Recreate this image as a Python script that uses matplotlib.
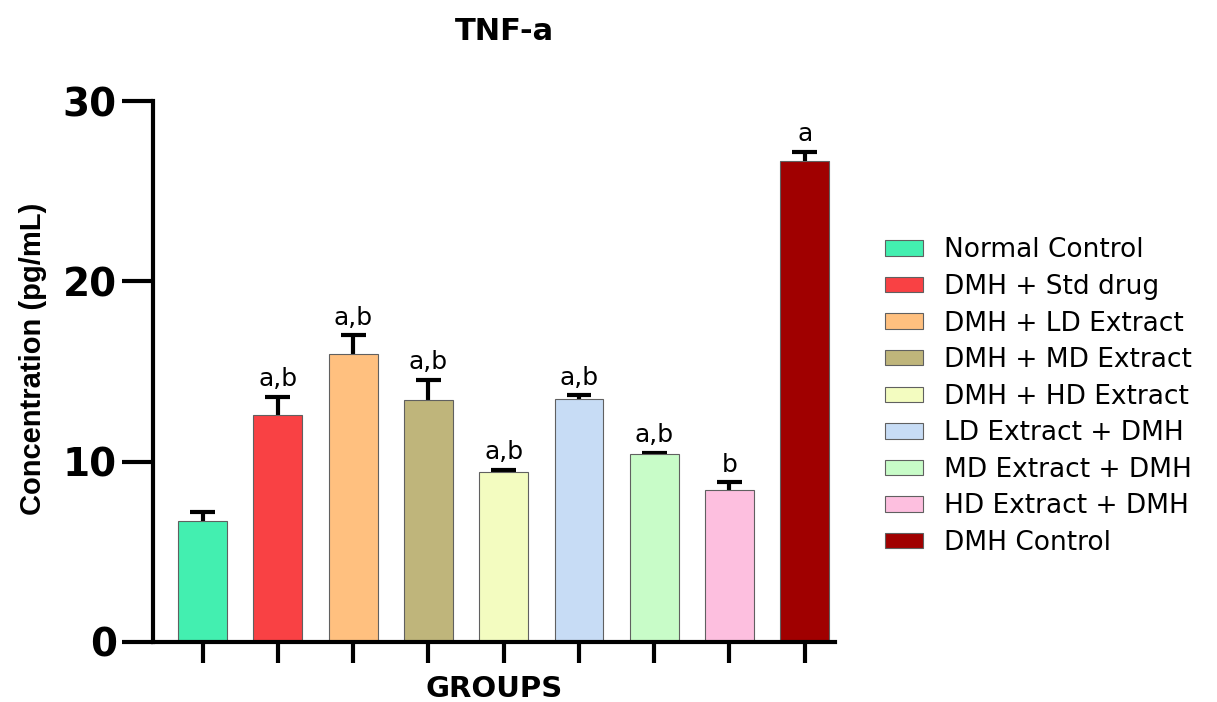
import numpy as np
import matplotlib
matplotlib.use('Agg')
import matplotlib.pyplot as plt
from matplotlib.patches import Patch

# groups, means, upper error and significance letters
groups = ['Normal Control', 'DMH + Std drug', 'DMH + LD Extract', 'DMH + MD Extract',
          'DMH + HD Extract', 'LD Extract + DMH', 'MD Extract + DMH', 'HD Extract + DMH',
          'DMH Control']
means = [6.7, 12.6, 16.0, 13.4, 9.45, 13.45, 10.4, 8.45, 26.7]
errs = [0.5, 1.0, 1.0, 1.15, 0.1, 0.25, 0.1, 0.4, 0.5]
letters = ['', 'a,b', 'a,b', 'a,b', 'a,b', 'a,b', 'a,b', 'b', 'a']
colors = ['#43EFB0', '#F94144', '#FFC07F', '#BFB57B', '#F3FCC0', '#C7DCF5',
          '#C8FCC8', '#FDBFDF', '#A00000']

plt.rcParams['font.family'] = ['DejaVu Sans']

fig = plt.figure(figsize=(12.17, 7.02), dpi=100)
ax = fig.add_axes([0.1257, 0.0855, 0.5603, 0.7705])

x = np.arange(len(groups))
tops = np.array(means) + np.array(errs)
ax.bar(x, means, width=0.65, color=colors, edgecolor='#606060', linewidth=0.8, zorder=2)
# upper error bars only: stem + cap
ax.vlines(x, means, tops, color='black', linewidth=3, zorder=1)
ax.hlines(tops, x - 0.165, x + 0.165, color='black', linewidth=3, zorder=1)

# significance letters above the error caps
for i in range(len(groups)):
    if letters[i]:
        ax.text(x[i], tops[i] + 0.3, letters[i], ha='center', va='bottom', fontsize=18)

ax.set_xlim(-0.66, 8.4)
ax.set_ylim(0, 30)
ax.set_yticks([0, 10, 20, 30])
ax.set_xticks(x)
ax.set_xticklabels([])
ax.spines['top'].set_visible(False)
ax.spines['right'].set_visible(False)
ax.spines['left'].set_linewidth(3)
ax.spines['bottom'].set_linewidth(3)
ax.tick_params(axis='y', length=22, width=3, labelsize=28, pad=4)
ax.tick_params(axis='x', length=15, width=3)
for t in ax.get_yticklabels():
    t.set_fontweight('bold')

ax.set_ylabel('Concentration (pg/mL)', fontsize=21, fontweight='bold',
              family=['Liberation Sans Narrow', 'Liberation Sans'])
ax.yaxis.set_label_coords(-0.155, 0.523)
ax.set_xlabel('GROUPS', fontsize=21, fontweight='bold', labelpad=5)
ax.set_title('TNF-a', fontsize=22, fontweight='bold', pad=44, x=0.516)

handles = [Patch(facecolor=c, edgecolor='#606060', linewidth=0.8) for c in colors]
fig.legend(handles, groups, loc='center left', bbox_to_anchor=(0.727, 0.435), frameon=False,
           fontsize=19, handlelength=1.45, handleheight=0.52, labelspacing=0.4,
           handletextpad=0.8, borderpad=0, borderaxespad=0)

fig.savefig('out.png', dpi=100)
